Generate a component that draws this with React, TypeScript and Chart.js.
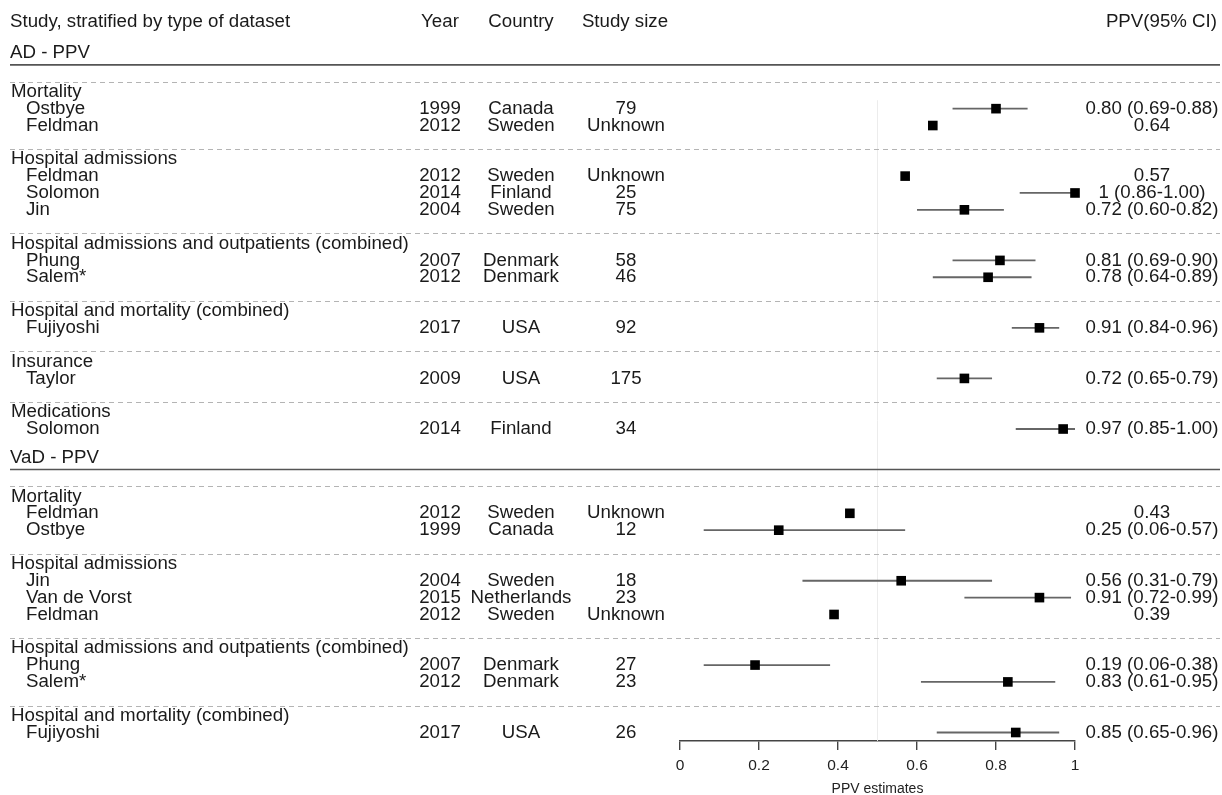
import { useEffect, useRef } from 'react';
import { Chart, registerables } from 'chart.js';

Chart.register(...registerables);

// ---------- data ----------
const sectionTitles = ['AD - PPV', 'VaD - PPV'];
const columnHeaders = ['Study, stratified by type of dataset', 'Year', 'Country', 'Study size', 'PPV(95% CI)'];
const axisTitle = 'PPV estimates';
const xTicks = [0, 0.2, 0.4, 0.6, 0.8, 1];

const studySection = [0, 0, 0, 0, 0, 0, 0, 0, 0, 0, 1, 1, 1, 1, 1, 1, 1, 1];
const studyGroup = [
  'Mortality', 'Mortality',
  'Hospital admissions', 'Hospital admissions', 'Hospital admissions',
  'Hospital admissions and outpatients (combined)', 'Hospital admissions and outpatients (combined)',
  'Hospital and mortality (combined)',
  'Insurance',
  'Medications',
  'Mortality', 'Mortality',
  'Hospital admissions', 'Hospital admissions', 'Hospital admissions',
  'Hospital admissions and outpatients (combined)', 'Hospital admissions and outpatients (combined)',
  'Hospital and mortality (combined)',
];
const studyNames = ['Ostbye', 'Feldman', 'Feldman', 'Solomon', 'Jin', 'Phung', 'Salem*', 'Fujiyoshi', 'Taylor', 'Solomon',
  'Feldman', 'Ostbye', 'Jin', 'Van de Vorst', 'Feldman', 'Phung', 'Salem*', 'Fujiyoshi'];
const studyYears = ['1999', '2012', '2012', '2014', '2004', '2007', '2012', '2017', '2009', '2014',
  '2012', '1999', '2004', '2015', '2012', '2007', '2012', '2017'];
const studyCountries = ['Canada', 'Sweden', 'Sweden', 'Finland', 'Sweden', 'Denmark', 'Denmark', 'USA', 'USA', 'Finland',
  'Sweden', 'Canada', 'Sweden', 'Netherlands', 'Sweden', 'Denmark', 'Denmark', 'USA'];
const studySizes = ['79', 'Unknown', 'Unknown', '25', '75', '58', '46', '92', '175', '34',
  'Unknown', '12', '18', '23', 'Unknown', '27', '23', '26'];
const ppv = [0.80, 0.64, 0.57, 1, 0.72, 0.81, 0.78, 0.91, 0.72, 0.97,
  0.43, 0.25, 0.56, 0.91, 0.39, 0.19, 0.83, 0.85];
const ciLow: (number | null)[] = [0.69, null, null, 0.86, 0.60, 0.69, 0.64, 0.84, 0.65, 0.85,
  null, 0.06, 0.31, 0.72, null, 0.06, 0.61, 0.65];
const ciHigh: (number | null)[] = [0.88, null, null, 1.00, 0.82, 0.90, 0.89, 0.96, 0.79, 1.00,
  null, 0.57, 0.79, 0.99, null, 0.38, 0.95, 0.96];

// ---------- row layout (derived from the data order) ----------
type RowItem = { kind: 'section' | 'group' | 'study'; row: number; text: string; idx?: number };

function buildRows(): { items: RowItem[]; studyRow: number[] } {
  const items: RowItem[] = [];
  const studyRow: number[] = [];
  let row = -4;
  let curSection = -1;
  let curGroup = '';
  for (let i = 0; i < studyNames.length; i++) {
    if (studySection[i] !== curSection) {
      curSection = studySection[i];
      row += 2;
      items.push({ kind: 'section', row, text: sectionTitles[curSection] });
      curGroup = '';
    }
    if (studyGroup[i] !== curGroup) {
      curGroup = studyGroup[i];
      row += 2;
      items.push({ kind: 'group', row, text: curGroup });
    }
    row += 1;
    items.push({ kind: 'study', row, text: studyNames[i], idx: i });
    studyRow.push(row);
  }
  return { items, studyRow };
}

const { items: rowItems, studyRow } = buildRows();
const lastRow = studyRow[studyRow.length - 1];

const fmt = (v: number) => (v === 1 ? '1' : v.toFixed(2));
const ppvLabel = (i: number) =>
  ciLow[i] == null ? fmt(ppv[i]) : `${fmt(ppv[i])} (${(ciLow[i] as number).toFixed(2)}-${(ciHigh[i] as number).toFixed(2)})`;

const FONT = '"Liberation Sans", Arial, Helvetica, sans-serif';
const TEXT = '#1a1a1a';

const forestPlugin = {
  id: 'forestTable',
  beforeDatasetsDraw(chart: any) {
    const { ctx } = chart;
    const ys = chart.scales.y;
    const xs = chart.scales.x;
    ctx.save();
    // reference line at 0.5
    const xr = xs.getPixelForValue(0.5);
    ctx.strokeStyle = '#ececec';
    ctx.lineWidth = 1;
    ctx.beginPath();
    ctx.moveTo(xr, ys.getPixelForValue(0.5));
    ctx.lineTo(xr, chart.chartArea.bottom);
    ctx.stroke();
    for (const it of rowItems) {
      if (it.kind === 'group') {
        const y = Math.round(ys.getPixelForValue(it.row - 0.6)) + 0.5;
        ctx.strokeStyle = '#b4b4b4';
        ctx.lineWidth = 1;
        ctx.setLineDash([5, 4]);
        ctx.beginPath();
        ctx.moveTo(10, y);
        ctx.lineTo(1220, y);
        ctx.stroke();
        ctx.setLineDash([]);
      } else if (it.kind === 'section') {
        const y = ys.getPixelForValue(it.row + 0.4);
        ctx.strokeStyle = '#555';
        ctx.lineWidth = 1.6;
        ctx.beginPath();
        ctx.moveTo(10, y);
        ctx.lineTo(1220, y);
        ctx.stroke();
      }
    }
    ctx.restore();
  },
  afterDatasetsDraw(chart: any) {
    const { ctx } = chart;
    const ys = chart.scales.y;
    ctx.save();
    ctx.fillStyle = TEXT;
    ctx.font = `18.7px ${FONT}`;
    ctx.textBaseline = 'middle';
    // column headers
    const hy = ys.getPixelForValue(-4.15);
    ctx.textAlign = 'left';
    ctx.fillText(columnHeaders[0], 10, hy);
    ctx.textAlign = 'center';
    ctx.fillText(columnHeaders[1], 440, hy);
    ctx.fillText(columnHeaders[2], 521, hy);
    ctx.fillText(columnHeaders[3], 625, hy);
    ctx.textAlign = 'right';
    ctx.fillText(columnHeaders[4], 1217, hy);

    for (const it of rowItems) {
      const y = ys.getPixelForValue(it.row);
      if (it.kind === 'section') {
        ctx.textAlign = 'left';
        ctx.fillText(it.text, 10, ys.getPixelForValue(it.row - 0.3));
      } else if (it.kind === 'group') {
        ctx.textAlign = 'left';
        ctx.fillText(it.text, 11, y);
      } else {
        const i = it.idx as number;
        ctx.textAlign = 'left';
        ctx.fillText(it.text, 26, y);
        ctx.textAlign = 'center';
        ctx.fillText(studyYears[i], 440, y);
        ctx.fillText(studyCountries[i], 521, y);
        ctx.fillText(studySizes[i], 626, y);
        ctx.fillText(ppvLabel(i), 1152, y);
      }
    }
    ctx.restore();
  },
};

export default function App() {
  const canvasRef = useRef<HTMLCanvasElement | null>(null);

  useEffect(() => {
    if (!canvasRef.current) return;
    const points = ppv.map((v, i) => ({ x: v, y: studyRow[i] }));
    const ciData: { x: number | null; y: number | null }[] = [];
    ppv.forEach((_, i) => {
      if (ciLow[i] != null && ciHigh[i] != null) {
        ciData.push({ x: ciLow[i], y: studyRow[i] });
        ciData.push({ x: ciHigh[i], y: studyRow[i] });
        ciData.push({ x: null, y: null });
      }
    });

    const chart = new Chart(canvasRef.current, {
      type: 'scatter',
      data: {
        datasets: [
          {
            label: 'PPV',
            data: points,
            pointStyle: 'rect',
            pointRadius: 6.8,
            pointHoverRadius: 6.8,
            backgroundColor: '#000',
            borderColor: '#000',
            borderWidth: 0,
            showLine: false,
            clip: false,
          },
          {
            label: '95% CI',
            data: ciData as any,
            showLine: true,
            spanGaps: false,
            pointRadius: 0,
            pointHoverRadius: 0,
            borderColor: '#666',
            borderWidth: 1.8,
            clip: false,
          },
        ],
      },
      options: {
        animation: false,
        responsive: true,
        maintainAspectRatio: false,
        events: [],
        layout: { padding: { left: 680, right: 147, top: 7.5, bottom: 0 } },
        plugins: { legend: { display: false }, tooltip: { enabled: false } },
        scales: {
          x: {
            type: 'linear',
            min: 0,
            max: 1,
            afterBuildTicks: (scale: any) => {
              scale.ticks = xTicks.map((v) => ({ value: v }));
            },
            ticks: {
              color: '#222',
              padding: 5,
              font: { family: FONT, size: 15.5, lineHeight: 1.45 },
              callback: (v: any) => String(Number(v)),
            },
            grid: {
              display: true,
              drawOnChartArea: false,
              drawTicks: true,
              tickLength: 9,
              color: '#444',
              lineWidth: 1.4,
            },
            border: { display: true, color: '#444', width: 1.4 },
            title: {
              display: true,
              text: axisTitle,
              color: '#222',
              font: { family: FONT, size: 14, lineHeight: 0.9 },
              padding: { top: 0, bottom: 0 },
            },
          },
          y: {
            type: 'linear',
            display: false,
            reverse: true,
            min: -5,
            max: lastRow + 0.5,
          },
        },
      },
      plugins: [forestPlugin],
    });
    return () => chart.destroy();
  }, []);

  return (
    <div style={{ position: 'fixed', left: 0, top: 0, width: '1222px', height: '795px', background: '#fff' }}>
      <canvas ref={canvasRef} />
    </div>
  );
}
